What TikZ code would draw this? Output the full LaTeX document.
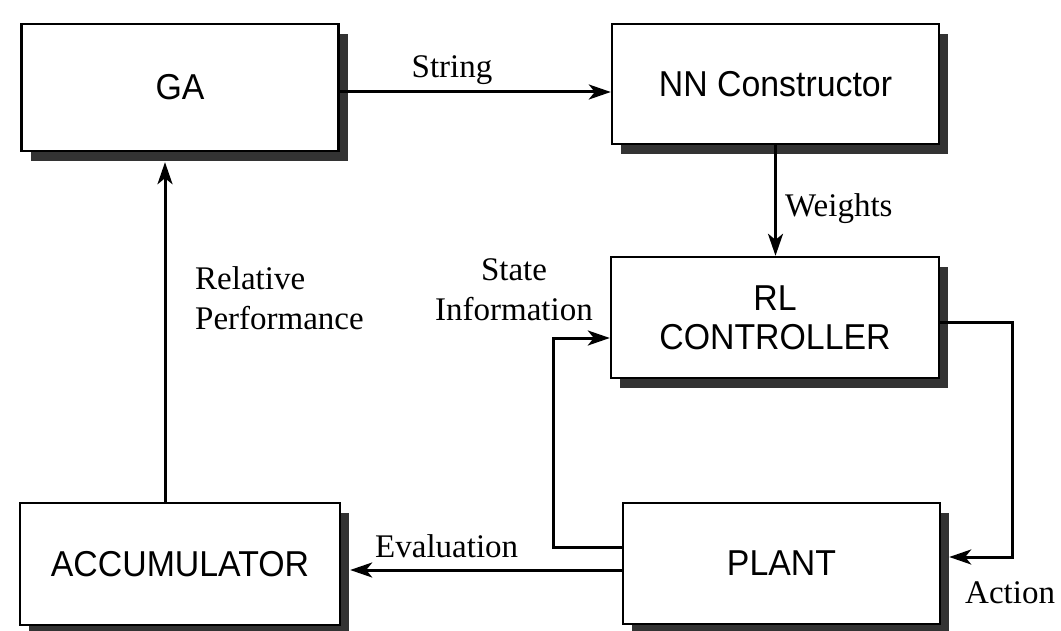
\documentclass[tikz,border=0pt]{standalone}
\usepackage{fontspec}
\setmainfont{Liberation Serif}
\newfontfamily\boxfont[FakeStretch=0.94]{Liberation Sans}
\usetikzlibrary{arrows.meta,shadows,calc}
\begin{document}
\begin{tikzpicture}[x=1pt,y=-1pt,
  blk/.style={draw=black, line width=2.4pt, fill=white, rectangle, inner sep=0pt,
    font=\boxfont\fontsize{36}{39}\selectfont, align=center,
    general shadow={fill=black!80, shadow xshift=9pt, shadow yshift=-10pt}},
  arr/.style={line width=3pt, -{Stealth[length=22pt,width=15pt,inset=6pt]}},
  lbl/.style={font=\fontsize{33}{40}\selectfont, inner sep=0pt}]
\useasboundingbox (0,0) rectangle (1061,631);

\node[blk, minimum width=317pt, minimum height=127pt] (ga) at (180,87.5) {GA};
\node[blk, minimum width=327pt, minimum height=120pt] (nn) at (775.5,84) {NN Constructor};
\node[blk, minimum width=328pt, minimum height=121pt] (rl) at (775,317.5) {RL\\CONTROLLER};
\node[blk, minimum width=317pt, minimum height=121pt] (plant) at (781.5,563.5) {PLANT};
\node[blk, minimum width=320pt, minimum height=122pt] (acc) at (180,564) {ACCUMULATOR};

\coordinate (sb) at (553,338);
\coordinate (ab) at (1012,557);

\draw[arr] ([yshift=-4.5pt]ga.east) -- ([yshift=-4.5pt]ga.east -| nn.west);
\draw[arr] (nn.south) -- (nn.south |- rl.north);
\draw[arr] ([xshift=-15pt]acc.north) -- ([xshift=-15pt,yshift=-10pt]acc.north |- ga.south);
\draw[arr] ([yshift=16pt]plant.west) -| (sb) -- (sb -| rl.west);
\draw[arr] ([yshift=-6.5pt]plant.west) -- ([yshift=-6.5pt,xshift=9pt]plant.west -| acc.east);
\draw[arr] ([yshift=-5.5pt]rl.east) -| (ab) -- ([xshift=8pt]ab -| plant.east);

\node[lbl, anchor=base] (lstr) at (452,78) {String};
\node[lbl, anchor=base west] (lw) at (785,217) {Weights};
\node[lbl, anchor=north west, align=left] (lrp) at (195,266) {Relative\\Performance};
\node[lbl, anchor=north, align=center] (lsi) at (514,258) {State\\Information};
\node[lbl, anchor=base west] (lev) at (375,557) {Evaluation};
\node[lbl, anchor=base west] (lac) at (965,603) {Action};
\end{tikzpicture}
\end{document}
